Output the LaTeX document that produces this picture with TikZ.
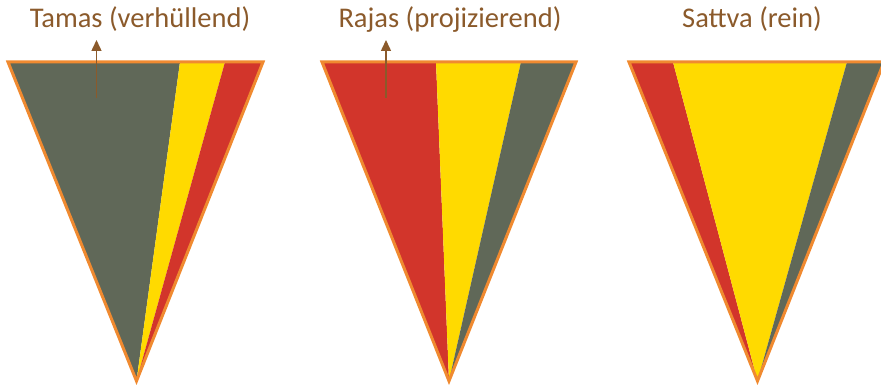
\documentclass[tikz,border=0pt]{standalone}
\usepackage{fontspec}
\setmainfont{Carlito}
\usetikzlibrary{arrows.meta}
\definecolor{tgray}{RGB}{96,104,88}
\definecolor{tyellow}{RGB}{255,218,0}
\definecolor{tred}{RGB}{210,53,43}
\definecolor{torange}{RGB}{240,138,48}
\definecolor{tbrown}{RGB}{139,90,43}
\tikzset{
  lbl/.style={text=tbrown, font=\fontsize{28.5}{32}\selectfont, inner sep=0pt, anchor=base},
  outline/.style={draw=torange, line width=3pt, line join=miter},
  uparrow/.style={draw=tbrown, line width=1.5pt, -{Triangle[length=11pt,width=10pt]}}
}
\begin{document}
\begin{tikzpicture}[x=1pt,y=-1pt]
\useasboundingbox (0,0) rectangle (881,385);
% Triangle 1 (Tamas)
\fill[tgray] (8,62) -- (180,62) -- (136.5,381) -- cycle;
\fill[tyellow] (180,62) -- (225,62) -- (136.5,381) -- cycle;
\fill[tred] (225,62) -- (263,62) -- (136.5,381) -- cycle;
\draw[outline] (8,62) -- (263,62) -- (136.5,381) -- cycle;
% Triangle 2 (Rajas)
\fill[tred] (322,62) -- (436,62) -- (449,381) -- cycle;
\fill[tyellow] (436,62) -- (521,62) -- (449,381) -- cycle;
\fill[tgray] (521,62) -- (576,62) -- (449,381) -- cycle;
\draw[outline] (322,62) -- (576,62) -- (449,381) -- cycle;
% Triangle 3 (Sattva)
\fill[tred] (629,62) -- (673,62) -- (757.5,381) -- cycle;
\fill[tyellow] (673,62) -- (847,62) -- (757.5,381) -- cycle;
\fill[tgray] (847,62) -- (884,62) -- (757.5,381) -- cycle;
\draw[outline] (629,62) -- (884,62) -- (757.5,381) -- cycle;
% Labels
\node[lbl] (tamas) at (140,27.5) {Tamas (verhüllend)};
\node[lbl] (rajas) at (450,27.5) {Rajas (projizierend)};
\node[lbl] (sattva) at (752,27.5) {Sattva (rein)};
% Arrows
\coordinate (a1s) at (96.5,98);
\coordinate (a1e) at (96.5,40);
\coordinate (a2s) at (386,98);
\coordinate (a2e) at (386,40);
\draw[uparrow] (a1s) -- (a1e);
\draw[uparrow] (a2s) -- (a2e);
\end{tikzpicture}
\end{document}
